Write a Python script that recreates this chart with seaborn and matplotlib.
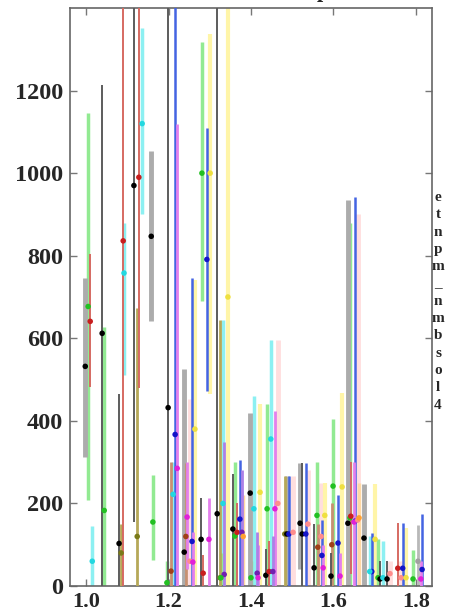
import matplotlib
matplotlib.use("Agg")
import matplotlib.pyplot as plt
import seaborn as sns
import pandas as pd

# measured points: series, position, value, lower and upper error limits
series = [
    "kthick", "green", "red", "cyan", "k", "green", "k", "olive", "red", "cyan",
    "k", "olive", "red", "cyan", "kthick", "green",
    "k", "green", "brown", "cyan", "blue", "magenta", "kthick", "brown", "magenta",
    "pink", "blue", "magenta", "yellow", "k", "red", "green", "blue", "magenta",
    "yellow", "k", "olive", "cyan", "purple", "green", "yellow",
    "k", "green", "red", "blue", "purple", "orange", "kthick", "green", "cyan",
    "purple", "magenta", "yellow", "k",
    "green", "red", "cyan", "purple", "magenta", "pink",
    "olive", "kthick", "blue", "pink", "kthick", "k", "blue", "pink",
    "k", "green", "brown", "blue", "magenta", "yellow", "pink",
    "k", "green", "brown", "blue", "magenta", "yellow",
    "kthick", "green", "red", "blue", "magenta", "pink", "orange",
    "kthick", "blue", "cyan", "yellow", "green", "k", "cyan", "k", "pink",
    "red", "pink", "blue", "yellow", "green", "gray", "blue", "magenta",
]
x_vals = [
    0.998, 1.005, 1.010, 1.015, 1.039, 1.044, 1.080, 1.085, 1.090, 1.092,
    1.116, 1.124, 1.128, 1.136, 1.158, 1.162,
    1.199, 1.196, 1.206, 1.211, 1.216, 1.221, 1.238, 1.242, 1.245,
    1.252, 1.257, 1.259, 1.264, 1.279, 1.284, 1.281, 1.293, 1.298,
    1.301, 1.318, 1.325, 1.332, 1.335, 1.327, 1.344,
    1.356, 1.361, 1.366, 1.373, 1.378, 1.381, 1.398, 1.400, 1.407,
    1.415, 1.417, 1.422, 1.436,
    1.439, 1.444, 1.448, 1.453, 1.458, 1.465,
    1.482, 1.487, 1.492, 1.502, 1.519, 1.524, 1.533, 1.538,
    1.553, 1.560, 1.562, 1.572, 1.575, 1.579, 1.570,
    1.594, 1.599, 1.596, 1.611, 1.616, 1.621,
    1.635, 1.640, 1.642, 1.652, 1.650, 1.659, 1.662,
    1.674, 1.693, 1.688, 1.701, 1.708, 1.713, 1.720, 1.730, 1.737,
    1.756, 1.764, 1.768, 1.776, 1.793, 1.805, 1.815, 1.812,
]
y_vals = [
    532, 677, 641, 60, 612, 183, 103, 80, 836, 758,
    970, 120, 990, 1120, 847, 155,
    432, 8, 36, 222, 367, 285, 82, 120, 167,
    60, 108, 58, 380, 113, 31, 1000, 791, 113,
    1000, 175, 20, 200, 28, 20, 700,
    138, 121, 130, 162, 130, 120, 225, 20, 187,
    31, 20, 227, 26,
    187, 35, 356, 35, 187, 200,
    126, 126, 126, 130, 152, 126, 126, 150,
    44, 171, 94, 74, 44, 171, 120,
    24, 242, 100, 104, 24, 240,
    152, 165, 169, 157, 155, 160, 165,
    116, 35, 35, 113, 20, 17, 20, 17, 30,
    43, 20, 43, 20, 17, 60, 40, 17,
]
y_low = [
    313, 209, 482, 0, 0, 0, 0, 0, 0, 510,
    155, 0, 480, 900, 641, 64,
    0, 0, 0, 0, 0, 0, 0, 0, 40,
    0, 0, 0, 0, 0, 0, 691, 472, 0,
    464, 0, 0, 0, 0, 0, 0,
    0, 0, 0, 0, 0, 0, 0, 0, 0,
    0, 0, 0, 0,
    0, 0, 0, 0, 0, 0,
    0, 0, 0, 0, 41, 0, 0, 0,
    0, 0, 0, 0, 0, 0, 0,
    0, 0, 0, 0, 0, 0,
    0, 0, 30, 0, 0, 0, 0,
    0, 0, 0, 0, 0, 0, 0, 0, 0,
    0, 0, 0, 0, 0, 0, 0, 0,
]
y_high = [
    745, 1145, 805, 145, 1214, 627, 466, 150, 1500, 880,
    1500, 673, 1500, 1352, 1054, 268,
    1500, 60, 300, 300, 1500, 1120, 525, 297, 300,
    452, 745, 130, 740, 213, 75, 1318, 1109, 213,
    1337, 1500, 645, 645, 350, 80, 1500,
    272, 300, 200, 305, 280, 220, 418, 60, 460,
    130, 100, 440, 90,
    440, 110, 597, 120, 423, 597,
    266, 266, 266, 266, 297, 297, 297, 280,
    150, 300, 150, 160, 100, 250, 250,
    80, 404, 200, 221, 80, 467,
    935, 880, 300, 943, 300, 900, 250,
    246, 129, 120, 248, 113, 60, 110, 60, 60,
    152, 60, 152, 140, 88, 148, 174, 60,
]

x_ticks = [1.0, 1.2, 1.4, 1.6, 1.8]
y_ticks = [0, 200, 400, 600, 800, 1000, 1200]
side_label = ["e", "t", "n", "p", "m", "_", "n", "m", "b", "s", "o", "l", "4"]

# point colour, bar colour, bar width, drawing layer
styles = {
    "pink":    ("#ff8c8c", "#ffdede", 3.5, 1),
    "yellow":  ("#efe040", "#fff5a8", 3.0, 1),
    "kthick":  ("#000000", "#acacac", 3.5, 2),
    "gray":    ("#a0a0a0", "#b8b8b8", 2.0, 2),
    "orange":  ("#ffa030", "#ffd8a4", 2.5, 2),
    "green":   ("#22c022", "#92ea92", 2.5, 2),
    "cyan":    ("#22d8e0", "#8cf0f2", 2.5, 2),
    "olive":   ("#7a7a18", "#b6a858", 2.0, 3),
    "brown":   ("#a04018", "#c89070", 2.0, 3),
    "purple":  ("#7020b0", "#ac80e6", 2.0, 3),
    "magenta": ("#e020d8", "#e480ec", 2.0, 3),
    "red":     ("#c81e1e", "#d66a62", 1.4, 3),
    "blue":    ("#1414c8", "#4464e2", 1.8, 3),
    "k":       ("#000000", "#5c5c5c", 1.4, 3),
}

df = pd.DataFrame({"series": series, "x": x_vals, "y": y_vals,
                   "lo": y_low, "hi": y_high})

sns.set_theme(style="ticks")
plt.rcParams["font.family"] = ["Liberation Serif", "DejaVu Serif"]
plt.rcParams["font.weight"] = "bold"

fig = plt.figure(figsize=(4.5, 6.12), dpi=100)
ax = fig.add_axes([70 / 450, 26 / 612, 362 / 450, 578 / 612])

for name, grp in df.groupby("series"):
    pcol, bcol, lw, layer = styles[name]
    ax.vlines(grp["x"], grp["lo"], grp["hi"], colors=bcol, linewidths=lw,
              zorder=layer)

sns.scatterplot(data=df, x="x", y="y", hue="series",
                palette={k: v[0] for k, v in styles.items()},
                s=16, linewidth=0, legend=False, ax=ax, zorder=6)

ax.set_xlim(0.961, 1.839)
ax.set_ylim(0, 1400)
ax.set_xticks(x_ticks)
ax.set_xticklabels([f"{t:.1f}" for t in x_ticks])
ax.set_yticks(y_ticks)
ax.set_yticklabels([str(t) for t in y_ticks])
ax.set_xlabel("")
ax.set_ylabel("")
ax.tick_params(direction="in", length=5, width=1, color="#777777",
               top=True, right=True, pad=4)
ax.tick_params(axis="x", labelsize=16)
ax.tick_params(axis="y", labelsize=17.5, pad=5)
for lab in ax.get_xticklabels() + ax.get_yticklabels():
    lab.set_fontweight("bold")
for sp in ax.spines.values():
    sp.set_visible(True)
    sp.set_color("#666666")
    sp.set_linewidth(1.2)

fig.text(438 / 450, 1 - 191 / 612, "\n".join(side_label), ha="center",
         va="top", fontsize=11, fontweight="bold", linespacing=1.43)
fig.text(323 / 450, 1.0 + 3 / 612, "p", ha="center", va="baseline",
         fontsize=16, fontweight="bold")

fig.savefig("out.png", dpi=100)
